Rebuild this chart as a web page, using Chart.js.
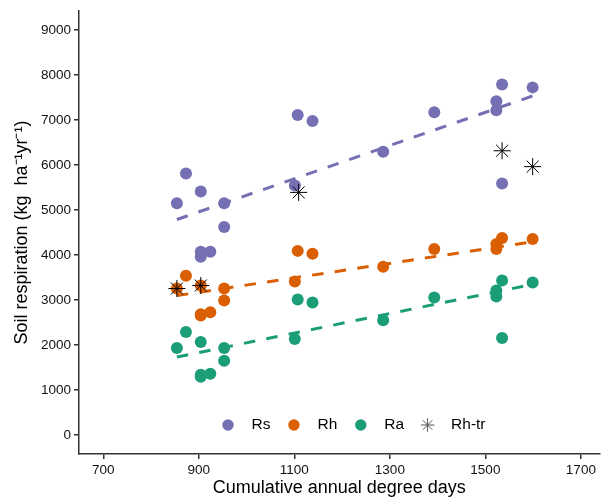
<!DOCTYPE html>
<html>
<head>
<meta charset="utf-8">
<script src="https://cdn.jsdelivr.net/npm/chart.js"></script>
<style>
  body { margin: 0; background: #fff; }
</style>
</head>
<body>
<canvas id="myChart" width="609" height="502"></canvas>
<script>
// valores (aprox.)
const rsX = [854, 873, 904, 904, 904, 924, 953, 953, 1101, 1107, 1138, 1286, 1393, 1523, 1523, 1535, 1535, 1599]
const rsY = [5150, 5810, 5414, 4071, 3961, 4071, 5150, 4621, 5546, 7108, 6976, 6294, 7174, 7416, 7218, 7790, 5590, 7724]

const rhX = [854, 873, 904, 904, 904, 924, 953, 953, 1101, 1107, 1138, 1286, 1393, 1523, 1523, 1535, 1599]
const rhY = [3257, 3543, 3323, 2685, 2660, 2729, 3257, 2993, 3411, 4093, 4027, 3741, 4137, 4247, 4137, 4379, 4357]

const raX = [854, 873, 904, 904, 904, 924, 953, 953, 1101, 1107, 1138, 1286, 1393, 1523, 1523, 1535, 1535, 1599]
const raY = [1937, 2289, 2069, 1298, 1340, 1364, 1937, 1651, 2135, 3015, 2949, 2553, 3059, 3213, 3081, 3433, 2157, 3389]

// Rh-tr (asteriscos)
const trX = [854, 904, 1109, 1535, 1599]
const trY = [3257, 3323, 5392, 6316, 5964]

// rectas de ajuste (extremos)
const fitX = [854, 1599]
const rsFit = [4790, 7534]
const rhFit = [3100, 4295]
const raFit = [1735, 3349]

const xTicks = [700, 900, 1100, 1300, 1500, 1700]
const yTicks = [0, 1000, 2000, 3000, 4000, 5000, 6000, 7000, 8000, 9000]

const colRs = '#7570B3'
const colRh = '#D95F02'
const colRa = '#1B9E77'
const fontFam = "'Liberation Sans', Arial, sans-serif"

const pts = (xs, ys) => xs.map((x, i) => ({ x: x, y: ys[i] }))

Chart.defaults.font.family = fontFam

const puntos = (label, xs, ys, col, order) => ({
  label: label,
  data: pts(xs, ys),
  backgroundColor: col,
  borderColor: col,
  borderWidth: 0,
  pointRadius: 6,
  pointHoverRadius: 6,
  order: order
})

const recta = (ys, col) => ({
  label: 'fit',
  data: pts(fitX, ys),
  showLine: true,
  borderColor: col,
  borderWidth: 3,
  borderDash: [11.5, 11.3],
  borderCapStyle: 'butt',
  pointRadius: 0,
  fill: false,
  order: 2
})

function estrella(ctx, x, y, r) {
  const d = r * Math.SQRT1_2
  ctx.beginPath()
  ctx.moveTo(x - r, y); ctx.lineTo(x + r, y)
  ctx.moveTo(x, y - r); ctx.lineTo(x, y + r)
  ctx.moveTo(x - d, y - d); ctx.lineTo(x + d, y + d)
  ctx.moveTo(x - d, y + d); ctx.lineTo(x + d, y - d)
  ctx.stroke()
}

const items = [
  { label: 'Rs', color: colRs },
  { label: 'Rh', color: colRh },
  { label: 'Ra', color: colRa },
  { label: 'Rh-tr', star: true }
]

// leyenda dentro del area del grafico
const leyenda = {
  id: 'leyenda',
  afterDraw(chart) {
    const ctx = chart.ctx
    const a = chart.chartArea
    const y = a.bottom - 29
    let x = a.left + 149
    ctx.save()
    ctx.font = '15.5px ' + fontFam
    ctx.textBaseline = 'middle'
    ctx.textAlign = 'left'
    items.forEach(it => {
      if (it.star) {
        ctx.strokeStyle = '#555'
        ctx.lineWidth = 1
        estrella(ctx, x, y, 6.7)
      } else {
        ctx.fillStyle = it.color
        ctx.beginPath()
        ctx.arc(x, y, 5.7, 0, Math.PI * 2)
        ctx.fill()
      }
      x += 23.5
      ctx.fillStyle = '#000'
      ctx.fillText(it.label, x, y)
      x += ctx.measureText(it.label).width + 23.5
    })
    ctx.restore()
  }
}

const ejeGrid = {
  display: true,
  drawOnChartArea: false,
  drawTicks: true,
  tickLength: 5,
  color: '#333',
  lineWidth: 1.5
}

const config = {
  type: 'scatter',
  data: {
    datasets: [
      puntos('Rs', rsX, rsY, colRs, 5),
      puntos('Rh', rhX, rhY, colRh, 4),
      puntos('Ra', raX, raY, colRa, 3),
      recta(rsFit, colRs),
      recta(rhFit, colRh),
      recta(raFit, colRa),
      {
        label: 'Rh-tr',
        data: pts(trX, trY),
        pointStyle: 'star',
        pointRadius: 8.5,
        pointHoverRadius: 8.5,
        borderColor: '#000',
        borderWidth: 1,
        backgroundColor: 'rgba(0,0,0,0)',
        order: 1
      }
    ]
  },
  options: {
    responsive: false,
    animation: false,
    devicePixelRatio: 1,
    layout: { padding: { top: 7, right: 0, bottom: 0, left: 0 } },
    plugins: {
      legend: { display: false },
      tooltip: { enabled: false }
    },
    scales: {
      x: {
        type: 'linear',
        min: 649,
        max: 1739,
        afterBuildTicks: axis => { axis.ticks = xTicks.map(v => ({ value: v })) },
        afterFit: s => { s.height = 48 },
        grid: ejeGrid,
        border: { display: true, color: '#333', width: 1.5 },
        ticks: { font: { size: 13.5 }, color: '#111', padding: 3, maxRotation: 0, callback: v => String(v) },
        title: {
          display: true,
          text: 'Cumulative annual degree days',
          color: '#000',
          font: { size: 18 },
          padding: { top: 0, bottom: 3.6 }
        }
      },
      y: {
        type: 'linear',
        min: -418,
        max: 9418,
        afterBuildTicks: axis => { axis.ticks = yTicks.map(v => ({ value: v })) },
        afterFit: s => { s.width = 79 },
        grid: ejeGrid,
        border: { display: true, color: '#333', width: 1.5 },
        ticks: { font: { size: 13.5 }, color: '#111', padding: 3, callback: v => String(v) },
        title: {
          display: true,
          text: 'Soil respiration (kg  ha\u207B\u00B9yr\u207B\u00B9)',
          color: '#000',
          font: { size: 18 },
          padding: { top: 11, bottom: 0 }
        }
      }
    }
  },
  plugins: [leyenda]
}

const myChart = new Chart(document.getElementById('myChart'), config)
</script>
</body>
</html>
